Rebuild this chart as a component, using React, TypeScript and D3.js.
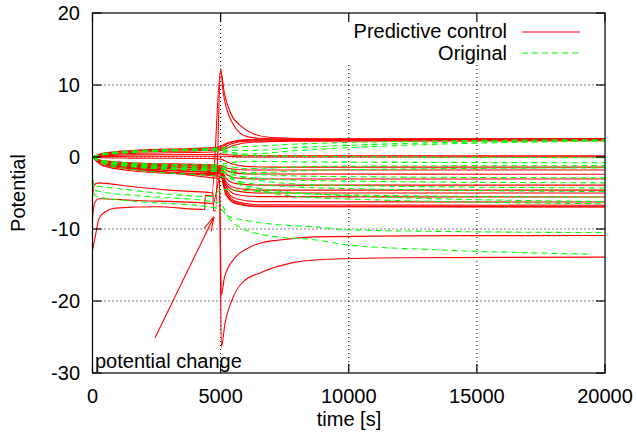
import * as d3 from "d3";

type Pt = [number, number];

const xTicks = [0, 5000, 10000, 15000, 20000];
const yTicks = [-30, -20, -10, 0, 10, 20];
const legendLabels = ["Predictive control", "Original"];

// Predictive control (red) runs, [time, potential]
const redSeries: Pt[][] = [
  [[0, 0], [400, 0.5], [1500, 0.9], [4700, 1.3], [5000, 1.5], [5300, 2.0], [5800, 2.35], [7000, 2.5], [20000, 2.55]],
  [[0, 0], [400, 0.45], [1500, 0.8], [4700, 1.15], [5000, 1.3], [5300, 1.9], [5800, 2.25], [7000, 2.4], [20000, 2.45]],
  [[0, 0], [400, 0.35], [1500, 0.65], [4700, 0.95], [5000, 1.1], [5400, 1.8], [6000, 2.2], [7500, 2.3], [20000, 2.35]],
  [[0, 0], [400, 0.25], [1500, 0.5], [4700, 0.7], [5000, 0.9], [5500, 1.6], [6200, 2.05], [8000, 2.2], [20000, 2.25]],
  [[0, 0], [400, 0.15], [1500, 0.3], [4700, 0.35], [5000, 0.4], [5500, 0.25], [7000, 0.15], [20000, 0.15]],
  [[0, 0], [400, 0.05], [1500, 0.1], [4700, 0.1], [5000, 0.1], [6000, 0.0], [20000, 0.0]],
  [[0, 0], [400, -0.1], [1500, -0.15], [4700, -0.2], [5000, -0.3], [5400, -0.9], [6000, -1.3], [7000, -1.4], [20000, -1.4]],
  [[0, 0], [400, -0.5], [1500, -0.8], [4700, -1.1], [5000, -1.2], [5300, -1.6], [6000, -1.8], [20000, -1.8]],
  [[0, 0], [400, -0.6], [1500, -0.9], [4700, -1.25], [5000, -1.4], [5300, -2.0], [6000, -2.35], [20000, -2.4]],
  [[0, 0], [400, -0.65], [1500, -1.0], [4700, -1.4], [5000, -1.5], [5250, -2.5], [5700, -2.95], [6500, -3.05], [20000, -3.05]],
  [[0, 0], [400, -0.7], [1500, -1.1], [4700, -1.55], [5000, -1.6], [5200, -2.9], [5600, -3.7], [6500, -3.9], [20000, -3.9]],
  [[0, 0], [400, -0.75], [1500, -1.2], [4700, -1.7], [5000, -1.8], [5200, -3.4], [5600, -4.3], [6500, -4.6], [20000, -4.6]],
  [[0, 0], [400, -0.8], [1500, -1.3], [4700, -1.85], [5000, -1.9], [5200, -3.7], [5600, -4.7], [6500, -5.0], [20000, -5.0]],
  [[0, 0], [400, -0.85], [1500, -1.4], [4700, -2.0], [5000, -2.0], [5200, -4.0], [5600, -5.2], [6500, -5.5], [20000, -5.55]],
  [[0, 0], [400, -0.9], [1500, -1.5], [4700, -2.15], [5000, -2.2], [5200, -4.4], [5600, -5.8], [6500, -6.2], [20000, -6.25]],
  [[0, 0], [400, -0.95], [1500, -1.6], [4700, -2.3], [5000, -2.3], [5200, -4.7], [5600, -6.2], [6500, -6.65], [20000, -6.7]],
  [[0, 0], [400, -1.0], [1500, -1.7], [4700, -2.45], [5000, -2.5], [5200, -5.0], [5600, -6.4], [6500, -6.85], [20000, -6.9]],
  [[0, 0], [300, -0.7], [2250, -1.8], [4700, -2.9], [4950, -3.0], [5030, -19.2], [5150, -16.7], [5560, -14.0], [6100, -12.6], [6600, -11.9], [7400, -11.5], [8700, -11.1], [12000, -10.95], [20000, -10.9]],
  [[0, 0], [400, -1.2], [1500, -1.9], [4700, -2.6], [4950, -2.7], [5030, -26.4], [5170, -23.1], [5440, -19.9], [5830, -17.5], [6610, -16.0], [7780, -14.7], [8680, -14.3], [12000, -14.0], [20000, -13.9]],
  [[0, -5.5], [60, -4.0], [200, -3.6], [1500, -4.1], [3000, -4.6], [4700, -5.0], [4720, -7.4], [4800, -7.5], [5000, 12.3], [5100, 9.0], [5250, 6.5], [5500, 4.5], [5900, 3.0], [6500, 2.6], [8000, 2.45], [20000, 2.45]],
  [[0, -13], [100, -11.2], [250, -8.6], [500, -7.6], [900, -7.1], [2500, -6.9], [4380, -7.3], [4400, -5.3], [4650, -5.4], [5000, 12.0], [5150, 8.8], [5400, 6.0], [5800, 4.3], [6300, 3.2], [7000, 2.7], [9000, 2.5], [20000, 2.5]],
  [[0, -8.5], [80, -6.4], [250, -5.8], [1500, -6.0], [4500, -6.4], [4700, -6.5], [5000, -2.5], [5200, -5.2], [5600, -6.5], [6500, -6.9], [20000, -6.95]],
];

// Original (green) runs, [time, potential]
const greenSeries: Pt[][] = [
  [[0, 0], [400, 0.45], [1500, 0.85], [4700, 1.2], [5000, 1.25], [6000, 1.45], [8000, 1.8], [11000, 2.1], [15000, 2.3], [20000, 2.4]],
  [[0, 0], [400, 0.4], [1500, 0.75], [4700, 1.05], [5000, 1.0], [6000, 0.9], [8000, 1.3], [11000, 1.75], [15000, 2.1], [20000, 2.3]],
  [[0, 0], [400, 0.35], [1500, 0.7], [4700, 1.0], [5000, 0.9], [6000, 0.4], [8000, 0.9], [12000, 1.6], [20000, 2.2]],
  [[0, 0], [400, 0.3], [1500, 0.6], [4700, 0.9], [5000, 0.7], [6000, 0.2], [8000, 0.1], [12000, 0.0], [20000, -0.1]],
  [[0, 0], [400, -0.5], [1500, -0.85], [4700, -1.1], [5000, -1.0], [6000, -0.6], [9000, -0.7], [20000, -0.8]],
  [[0, 0], [400, -0.55], [1500, -0.95], [4700, -1.3], [5000, -1.2], [6000, -1.6], [9000, -1.3], [20000, -1.2]],
  [[0, 0], [400, -0.6], [1500, -1.05], [4700, -1.5], [5000, -1.5], [6000, -2.2], [9000, -1.8], [20000, -1.5]],
  [[0, 0], [400, -0.6], [1500, -1.1], [4700, -1.6], [5000, -1.6], [6000, -3.0], [9000, -3.9], [20000, -4.3]],
  [[0, 0], [400, -0.65], [1500, -1.15], [4700, -1.7], [5000, -1.7], [6000, -2.3], [9000, -2.7], [20000, -2.9]],
  [[0, 0], [400, -0.7], [1500, -1.25], [4700, -1.8], [5000, -1.9], [6000, -4.0], [9000, -5.2], [20000, -6.2]],
  [[0, 0], [400, -0.7], [1500, -1.3], [4700, -2.0], [5000, -2.1], [6000, -2.8], [9000, -3.3], [20000, -3.6]],
  [[0, 0], [400, -0.75], [1500, -1.35], [4700, -1.95], [5000, -2.0], [6000, -4.3], [9000, -5.7], [20000, -6.5]],
  [[0, 0], [400, -0.9], [1500, -1.7], [4700, -2.6], [5000, -2.7], [6000, -3.6], [9000, -4.3], [20000, -4.8]],
  [[0, -3.0], [80, -4.0], [300, -4.1], [1500, -4.6], [4700, -5.5], [5000, -4.5], [5600, -4.6], [9000, -5.2], [20000, -5.6]],
  [[0, -3.3], [80, -4.6], [300, -4.8], [1500, -5.3], [4700, -6.2], [5000, -6.4], [5300, -8.2], [5950, -8.8], [7240, -9.4], [8680, -9.7], [9930, -10.1], [14000, -10.35], [20000, -10.5]],
  [[0, -3.6], [80, -5.3], [300, -5.6], [1500, -6.1], [4700, -7.0], [5050, -7.4], [5440, -9.0], [5950, -10.1], [7240, -11.1], [8680, -11.5], [9930, -12.2], [13550, -12.9], [19500, -13.5]],
];

// annotation arrow, tail -> head, in data units
const arrowFrom: Pt = [2440, -25.1];
const arrowTo: Pt = [4740, -8.3];

export default function App() {
  const W = 637, H = 441;
  const left = 92.5, right = 605, top = 13, bottom = 373;

  const x = d3.scaleLinear().domain([0, 20000]).range([left, right]);
  const y = d3.scaleLinear().domain([-30, 20]).range([bottom, top]);

  const line = d3.line<Pt>()
    .x(d => x(d[0]))
    .y(d => y(d[1]))
    .curve(d3.curveMonotoneX);

  const font = "'Liberation Sans', Arial, Helvetica, sans-serif";
  const tickLen = 9;

  // arrow head
  const ax1 = x(arrowFrom[0]), ay1 = y(arrowFrom[1]);
  const ax2 = x(arrowTo[0]), ay2 = y(arrowTo[1]);
  const ang = Math.atan2(ay2 - ay1, ax2 - ax1);
  const hl = 15, ha = Math.PI / 12;
  const head = [ang + Math.PI - ha, ang + Math.PI + ha].map(a => [ax2 + hl * Math.cos(a), ay2 + hl * Math.sin(a)]);

  return (
    <svg width={W} height={H} style={{ position: "fixed", left: 0, top: 0, background: "#fff" }} fontFamily={font}>
      <defs>
        <clipPath id="plotArea">
          <rect x={left} y={top} width={right - left} height={bottom - top} />
        </clipPath>
      </defs>

      {/* grid */}
      <g stroke="#000" strokeWidth={1} strokeDasharray="1,3" fill="none">
        {xTicks.slice(1, -1).map(t => (
          <line key={"gx" + t} x1={x(t)} x2={x(t)} y1={x(t) > 330 ? 65 : top} y2={bottom} />
        ))}
        {yTicks.slice(1, -1).map(t => (
          <line key={"gy" + t} x1={left} x2={right} y1={y(t)} y2={y(t)} />
        ))}
      </g>

      {/* data */}
      <g clipPath="url(#plotArea)" fill="none">
        {redSeries.map((s, i) => (
          <path key={"r" + i} d={line(s) || ""} stroke="#ff0000" strokeWidth={1.1} />
        ))}
        {greenSeries.map((s, i) => (
          <path key={"g" + i} d={line(s) || ""} stroke="#00ff00" strokeWidth={1.1} strokeDasharray="6,4" />
        ))}
      </g>

      {/* annotation */}
      <g stroke="#ff0000" strokeWidth={1.1} fill="none">
        <line x1={ax1} y1={ay1} x2={ax2} y2={ay2} />
        {head.map((p, i) => (
          <line key={"h" + i} x1={p[0]} y1={p[1]} x2={ax2} y2={ay2} />
        ))}
      </g>
      <text x={95} y={368} fontSize={20} fill="#000">potential change</text>

      {/* border and ticks */}
      <rect x={left} y={top} width={right - left} height={bottom - top} fill="none" stroke="#000" strokeWidth={1.2} />
      <g stroke="#000" strokeWidth={1.2}>
        {xTicks.map(t => (
          <g key={"tx" + t}>
            <line x1={x(t)} x2={x(t)} y1={bottom} y2={bottom - tickLen} />
            <line x1={x(t)} x2={x(t)} y1={top} y2={top + tickLen} />
          </g>
        ))}
        {yTicks.map(t => (
          <g key={"ty" + t}>
            <line x1={left} x2={left + tickLen} y1={y(t)} y2={y(t)} />
            <line x1={right} x2={right - tickLen} y1={y(t)} y2={y(t)} />
          </g>
        ))}
      </g>

      {/* tick labels */}
      <g fontSize={20} fill="#000">
        {xTicks.map(t => (
          <text key={"lx" + t} x={x(t)} y={403} textAnchor="middle">{t}</text>
        ))}
        {yTicks.map(t => (
          <text key={"ly" + t} x={80} y={y(t) + 7} textAnchor="end">{t}</text>
        ))}
      </g>

      {/* axis titles */}
      <text x={349} y={426} fontSize={20} textAnchor="middle">time [s]</text>
      <text transform={`translate(25,${193}) rotate(-90)`} fontSize={20} textAnchor="middle">Potential</text>

      {/* legend */}
      <g fontSize={20}>
        <text x={507} y={38} textAnchor="end">{legendLabels[0]}</text>
        <line x1={522} x2={580} y1={32} y2={32} stroke="#ff0000" strokeWidth={1.1} />
        <text x={507} y={60} textAnchor="end">{legendLabels[1]}</text>
        <line x1={522} x2={580} y1={53} y2={53} stroke="#00ff00" strokeWidth={1.1} strokeDasharray="6,4" />
      </g>
    </svg>
  );
}
